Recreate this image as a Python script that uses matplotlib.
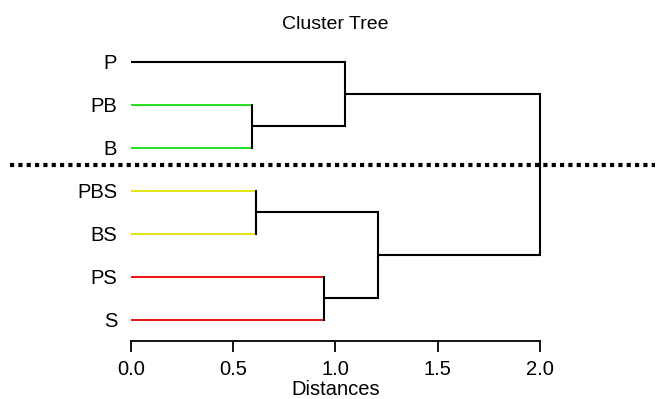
import matplotlib
matplotlib.use("Agg")
import matplotlib.pyplot as plt

plt.rcParams['font.family'] = ['Liberation Sans', 'DejaVu Sans']

leaves = ["P", "PB", "B", "PBS", "BS", "PS", "S"]
leaf_colors = ["black", "#10dc10", "#10dc10", "#e0e000", "#e0e000", "#e80000", "#e80000"]
# merges: (node a, node b, height)
merges = [
    ("PB", "B", 0.59),
    ("PBS", "BS", 0.61),
    ("PS", "S", 0.945),
    ("P", "PB+B", 1.048),
    ("PBS+BS", "PS+S", 1.21),
    ("P+PB+B", "PBS+BS+PS+S", 2.0),
]
cut_between = 3.6  # y position of cut line (between B and PBS)
xticks = [0.0, 0.5, 1.0, 1.5, 2.0]

fig = plt.figure(figsize=(6.57, 3.99), dpi=100)
ax = fig.add_axes([0.1994, 0.1454, 0.6225, 0.7531])

n = len(leaves)
ypos = {name: n - 1 - i for i, name in enumerate(leaves)}
xpos = {name: 0.0 for name in leaves}

first_merge = {}
for a, b, h in merges:
    for nd in (a, b):
        if nd not in first_merge:
            first_merge[nd] = h

for i, name in enumerate(leaves):
    h = first_merge[name]
    c = leaf_colors[i]
    lw = 1.5 if c == "black" else 1.3
    ax.plot([0, h], [ypos[name], ypos[name]], color=c, lw=lw,
            solid_capstyle='butt', clip_on=False)

for a, b, h in merges:
    ya, yb = ypos[a], ypos[b]
    for nd in (a, b):
        if nd not in leaves:
            ax.plot([xpos[nd], h], [ypos[nd], ypos[nd]], color="black", lw=1.5,
                    solid_capstyle='butt', clip_on=False)
    ax.plot([h, h], [ya, yb], color="black", lw=1.5, solid_capstyle='projecting',
            clip_on=False)
    new = a + "+" + b
    ypos[new] = (ya + yb) / 2.0
    xpos[new] = h

ax.axhline(cut_between, xmin=-0.296, xmax=1.281, color="black", lw=3,
           linestyle=(0, (1, 1)), clip_on=False)

ax.set_xlim(0, 2.0)
ax.set_ylim(-0.49, 6.5)
ax.set_yticks([ypos[l] for l in leaves])
ax.set_yticklabels(leaves, fontsize=14.5)
ax.tick_params(axis='y', length=0, pad=10)
ax.set_xticks(xticks)
ax.set_xticklabels([f"{t:.1f}" for t in xticks], fontsize=14.5)
ax.tick_params(axis='x', length=8, width=1.3, pad=6, direction='out')
for s in ["top", "right", "left"]:
    ax.spines[s].set_visible(False)
ax.spines["bottom"].set_linewidth(1.3)
ax.set_xlabel("Distances", fontsize=14.5, labelpad=0.5)
ax.set_title("Cluster Tree", fontsize=14, pad=8)

fig.savefig("out.png", dpi=100)
